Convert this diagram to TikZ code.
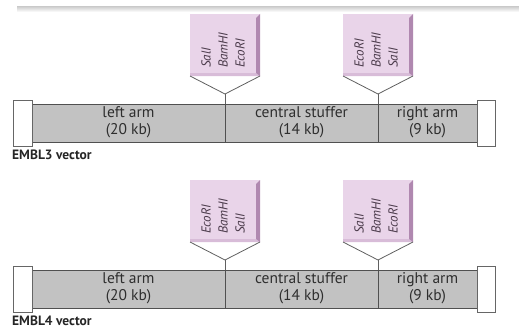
\documentclass[tikz,border=0pt]{standalone}
\usepackage{fontspec}
\setmainfont{PT Sans}
\definecolor{barfill}{HTML}{C2C2C2}
\definecolor{barline}{HTML}{505050}
\definecolor{pinkfill}{HTML}{E9D4E9}
\definecolor{pinkdark}{HTML}{B088B0}
\definecolor{pinkmid}{HTML}{D8BCD8}
\definecolor{txt}{HTML}{2E2E2E}
\definecolor{sitetxt}{HTML}{4A3A4A}
\newcommand\sitebox[3]{% #1 name, #2 centre x, #3 labels
  \fill[pinkfill] ({#2-35},14) rectangle ({#2+35},76);
  \fill[pinkmid] ({#2-35},73) -- ({#2+31},73) -- ({#2+35},76) -- ({#2-35},76) -- cycle;
  \fill[pinkdark] ({#2+31},18) -- ({#2+35},14) -- ({#2+35},76) -- ({#2+31},73) -- cycle;
  \node[sitetext] (#1) at ({#2-2},68) {#3};
  \draw[tri] ({#2-35},76) -- (#2,94) -- ({#2+35},76);
  \draw[tri] (#2,94) -- (#2,104);
}
\newcommand\emblvector[5]{% #1 prefix, #2 shift, #3 site1, #4 site2, #5 label
  \begin{scope}[yshift=-#2pt]
    \sitebox{#1siteA}{225}{#3}
    \sitebox{#1siteB}{378}{#4}
    \draw[barline, fill=barfill, line width=1pt] (32,104) rectangle (477,142);
    \draw[barline, line width=1pt] (225,104) -- (225,142);
    \draw[barline, line width=1pt] (378,104) -- (378,142);
    \draw[endbox] (13,100) rectangle (32,146);
    \draw[endbox] (477,100) rectangle (495,146);
    \node[armtext] (#1left) at (128.5,122) {left arm\\(20 kb)};
    \node[armtext] (#1mid) at (301.5,122) {central stuffer\\(14 kb)};
    \node[armtext] (#1right) at (427.5,122) {right arm\\(9 kb)};
    \node[vectext] (#1label) at (12,159.5) {#5};
  \end{scope}
}
\begin{document}
\begin{tikzpicture}[x=1pt,y=-1pt,
  sitetext/.style={rotate=90, anchor=west, align=left, inner sep=0pt,
    text=sitetxt, font=\fontsize{13}{17}\selectfont\itshape},
  tri/.style={draw=gray!75!black, line width=0.8pt},
  endbox/.style={draw=gray!80!black, fill=white, line width=0.8pt},
  armtext/.style={align=center, text=txt, inner sep=0pt,
    font=\fontsize{15.5}{16.5}\selectfont},
  vectext/.style={anchor=base west, inner sep=0pt, text=black!85,
    font=\fontsize{13.5}{15}\selectfont\bfseries}]
\useasboundingbox (0,0) rectangle (519,329);
\fill[white] (0,0) rectangle (519,329);
\shade[top color=gray!35, bottom color=white] (17,7) rectangle (519,12);
\emblvector{a}{0}{SalI\\BamHI\\EcoRI}{EcoRI\\BamHI\\SalI}{EMBL3 vector}
\emblvector{b}{166}{EcoRI\\BamHI\\SalI}{SalI\\BamHI\\EcoRI}{EMBL4 vector}
\end{tikzpicture}
\end{document}
